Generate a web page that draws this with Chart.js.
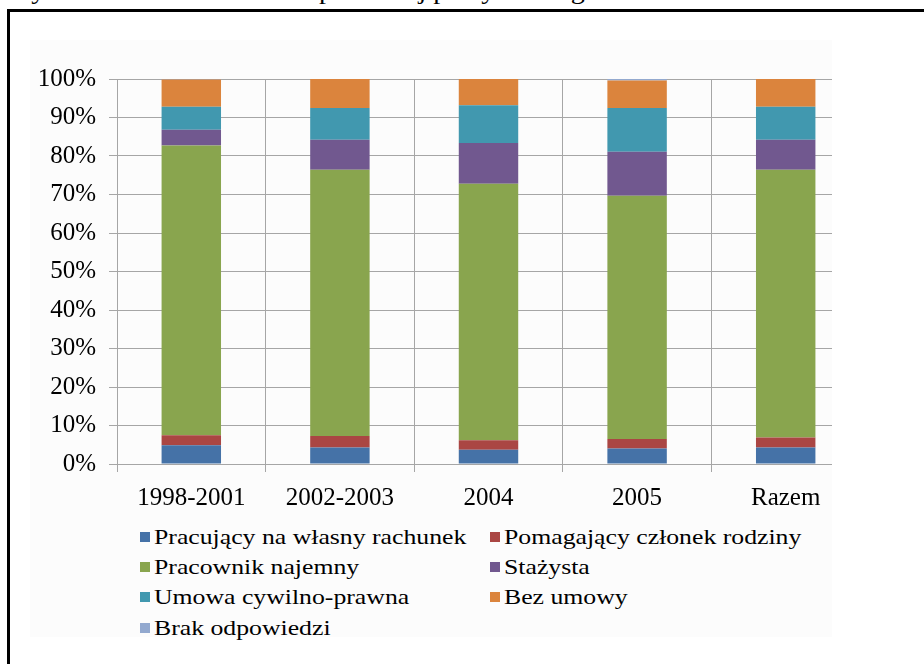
<!DOCTYPE html>
<html>
<head>
<meta charset="utf-8">
<script src="https://cdn.jsdelivr.net/npm/chart.js@4"></script>
<style>
    body { margin: 0; background: #fff; width: 924px; height: 664px; overflow: hidden; position: relative; font-family: "Liberation Serif", "Times New Roman", serif; }
    #title { position: absolute; right: 104px; top: -22px; font-size: 25px; line-height: 25px; white-space: nowrap; transform: scaleX(1.12); transform-origin: right center; }
    #frame { position: absolute; left: 7px; top: 9px; width: 960px; height: 700px; border-left: 3px solid #000; border-top: 3px solid #000; }
    #chartBox { position: absolute; left: 30px; top: 40px; width: 802px; height: 597px; overflow: hidden; background: #fcfcfc; }
    #taskChart { position: absolute; left: 0; top: 0; }
    .leg { position: absolute; height: 30px; line-height: 30px; font-size: 22px; white-space: nowrap; }
    .leg span.box { position: absolute; left: 0; top: 10px; width: 10px; height: 10px; }
    .leg span.txt { position: absolute; left: 14px; top: 0; transform: scaleX(1.17); transform-origin: left center; }
</style>
</head>
<body>
<div id="title">Rysunek 4.3.5.2 Charakter pierwszej pracy według kohort absolwentów</div>
<div id="frame"></div>
<div id="chartBox">
    <canvas id="taskChart" width="840" height="480"></canvas>
</div>
<div id="legend"></div>
<script>
const categories = ['1998-2001', '2002-2003', '2004', '2005', 'Razem'];
const seriesNames = [
    'Pracujący na własny rachunek',
    'Pomagający członek rodziny',
    'Pracownik najemny',
    'Stażysta',
    'Umowa cywilno-prawna',
    'Bez umowy',
    'Brak odpowiedzi'
];
const wlasnyRachunek = [4.9, 4.3, 3.7, 4.0, 4.3];
const pomagajacy = [2.6, 3.0, 2.5, 2.5, 2.6];
const najemny = [75.2, 69.1, 66.6, 63.2, 69.5];
const stazysta = [4.1, 7.8, 10.6, 11.4, 7.8];
const cywilnoPrawna = [6.0, 8.3, 9.8, 11.4, 8.6];
const bezUmowy = [7.1, 7.5, 6.8, 7.1, 7.2];
const brakOdpowiedzi = [0.1, 0.0, 0.0, 0.4, 0.0];
const yTicks = [0, 10, 20, 30, 40, 50, 60, 70, 80, 90, 100];

const seriesValues = [wlasnyRachunek, pomagajacy, najemny, stazysta, cywilnoPrawna, bezUmowy, brakOdpowiedzi];
const colors = ['#4572A7', '#AA4643', '#89A54E', '#71588F', '#4198AF', '#DB843D', '#93A9CF'];

document.addEventListener('DOMContentLoaded', function() {
    const canvas = document.getElementById('taskChart');
    const ctx = canvas.getContext('2d');
    const serif = "'Liberation Serif', 'Times New Roman', serif";

    new Chart(ctx, {
        type: 'bar',
        data: {
            labels: categories,
            datasets: seriesValues.map(function(vals, i) {
                return {
                    label: seriesNames[i],
                    data: vals,
                    backgroundColor: colors[i],
                    borderWidth: 0,
                    categoryPercentage: 0.8,
                    barPercentage: 0.5
                };
            })
        },
        options: {
            responsive: false,
            animation: false,
            layout: { padding: { top: 39, right: 10, bottom: 0, left: 0 } },
            plugins: {
                legend: { display: false },
                tooltip: { enabled: false }
            },
            scales: {
                x: {
                    stacked: true,
                    grid: { color: '#a6a6a6', lineWidth: 1, offset: true, tickLength: 8 },
                    border: { color: '#a6a6a6' },
                    ticks: { color: '#000', font: { family: serif, size: 25 }, padding: 11, maxRotation: 0 },
                    afterFit: function(scale) { scale.height = 56; }
                },
                y: {
                    stacked: true,
                    min: 0,
                    max: 100,
                    afterBuildTicks: function(scale) {
                        scale.ticks = yTicks.map(function(v) { return { value: v }; });
                    },
                    grid: { color: '#a6a6a6', lineWidth: 1, tickLength: 8 },
                    border: { color: '#a6a6a6' },
                    ticks: {
                        color: '#000',
                        font: { family: serif, size: 25 },
                        padding: 13,
                        callback: function(v) { return v + '%'; }
                    },
                    afterFit: function(scale) { scale.width = 87; }
                }
            }
        }
    });

    // HTML legend, two columns
    const legend = document.getElementById('legend');
    const colX = [140, 490];
    const rowY = [522, 552, 582, 613];
    seriesNames.forEach(function(name, i) {
        const el = document.createElement('div');
        el.className = 'leg';
        el.style.left = colX[i % 2] + 'px';
        el.style.top = rowY[Math.floor(i / 2)] + 'px';
        el.innerHTML = '<span class="box" style="background:' + colors[i] + '"></span><span class="txt">' + name + '</span>';
        legend.appendChild(el);
    });
});
</script>
</body>
</html>
